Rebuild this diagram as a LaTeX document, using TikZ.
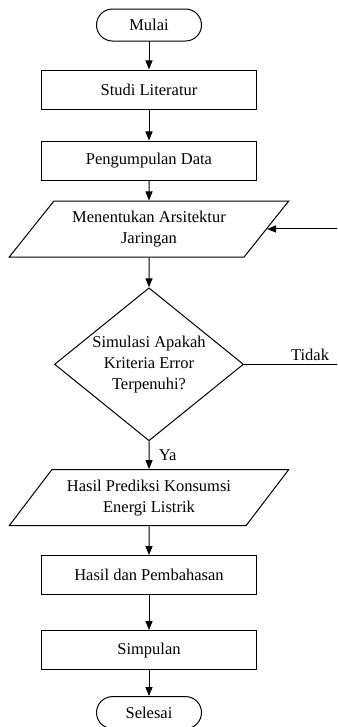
\documentclass[tikz,border=0pt]{standalone}
\usepackage{fontspec}
\setmainfont{Liberation Serif}
\usetikzlibrary{shapes.geometric,arrows.meta}

\tikzset{
  terminal/.style={draw, rectangle, rounded corners=16pt, minimum width=105pt, minimum height=32pt},
  proses/.style={draw, rectangle, minimum width=214pt, minimum height=39pt},
  io/.style={draw, trapezium, trapezium left angle=45, trapezium right angle=135,
    trapezium stretches=true, minimum width=280pt, minimum height=56pt, inner sep=0pt, align=center},
  keputusan/.style={draw, diamond, aspect=1.25, minimum width=189pt, minimum height=153pt,
    inner sep=0pt, align=center},
}

\begin{document}
\begin{tikzpicture}[x=1pt, y=1pt, line width=1pt, >={Triangle[length=9pt,width=7pt]},
  every node/.style={font=\fontsize{16.5}{21}\selectfont}]
  \useasboundingbox (0,0) rectangle (337,-727);
  \coordinate (kanan) at (337,0);
  \matrix[row sep=28pt, inner sep=0pt, matrix anchor=north] at (149,-8) {
    \node[terminal] (mulai) {Mulai}; \\[0pt]
    \node[proses] (studi) {Studi Literatur}; \\[3pt]
    \node[proses] (data) {Pengumpulan Data}; \\[-8pt]
    \node[io] (arsitektur) {Menentukan Arsitektur\\Jaringan}; \\[2pt]
    \node[keputusan] (cek) {Simulasi Apakah\\Kriteria Error\\Terpenuhi?}; \\[0pt]
    \node[io] (prediksi) {Hasil Prediksi Konsumsi\\Energi Listrik}; \\[1pt]
    \node[proses] (hasil) {Hasil dan Pembahasan}; \\[7pt]
    \node[proses] (simpulan) {Simpulan}; \\[-2pt]
    \node[terminal] (selesai) {Selesai}; \\
  };
  \draw[->] (mulai) -- (studi);
  \draw[->] (studi) -- (data);
  \draw[->] (data) -- (arsitektur);
  \draw[->] (arsitektur) -- (cek);
  \draw[->] (cek) -- (prediksi) node[midway, right=6pt] (ya) {Ya};
  \draw[->] (prediksi) -- (hasil);
  \draw[->] (hasil) -- (simpulan);
  \draw[->] (simpulan) -- (selesai);
  \draw (cek.east) -- (cek.east -| kanan) node[pos=0.71, above] (tidak) {Tidak};
  \draw[->] (arsitektur.east -| kanan) -- (arsitektur.east);
\end{tikzpicture}
\end{document}
